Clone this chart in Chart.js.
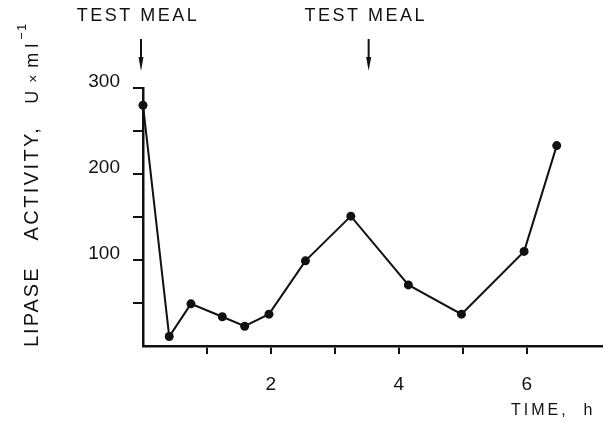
<!DOCTYPE html>
<html>
<head>
<meta charset="utf-8">
<script src="https://cdn.jsdelivr.net/npm/chart.js@4.4.1/dist/chart.umd.min.js"></script>
<style>
  body { margin: 0; background: #fff; }
  #wrap { width: 606px; height: 423px; }
</style>
</head>
<body>
<div id="wrap"><canvas id="grafica" width="606" height="423"></canvas></div>
<script>
// valores
const timeH  = [0, 0.41, 0.75, 1.24, 1.59, 1.97, 2.54, 3.25, 4.15, 4.98, 5.96, 6.47];
const lipase = [280, 11, 49, 34, 23, 37, 99, 151, 71, 37, 110, 233];
const mealTimes = [0, 3.56];
const mealLabel = 'TEST MEAL';
const xLabels = [2, 4, 6];
const yLabels = [100, 200, 300];

const ink = '#111';

// textos y flechas que Chart.js no dibuja solo
const extras = {
  id: 'extras',
  afterDraw(chart) {
    const ctx = chart.ctx;
    const xs = chart.scales.x;
    ctx.save();
    ctx.fillStyle = ink;
    ctx.strokeStyle = ink;

    // flechas TEST MEAL
    mealTimes.forEach(t => {
      const px = xs.getPixelForValue(t) - 2;
      ctx.font = '18px "Liberation Sans", Arial, sans-serif';
      ctx.letterSpacing = '2.5px';
      ctx.textAlign = 'center';
      ctx.textBaseline = 'middle';
      ctx.fillText(mealLabel, px - 3, 16);
      ctx.lineWidth = 2;
      ctx.beginPath();
      ctx.moveTo(px, 39);
      ctx.lineTo(px, 60);
      ctx.stroke();
      ctx.beginPath();
      ctx.moveTo(px - 2.5, 57);
      ctx.lineTo(px + 2.5, 57);
      ctx.lineTo(px, 71);
      ctx.closePath();
      ctx.fill();
    });

    // titulo eje y (girado)
    ctx.save();
    ctx.translate(38, 347);
    ctx.rotate(-Math.PI / 2);
    ctx.textAlign = 'left';
    ctx.textBaseline = 'alphabetic';
    let pos = 0;
    const piece = (txt, size, spacing, gapAfter, rise) => {
      ctx.font = size + 'px "Liberation Sans", Arial, sans-serif';
      ctx.letterSpacing = spacing + 'px';
      ctx.fillText(txt, pos, -(rise || 0));
      pos += ctx.measureText(txt).width + gapAfter;
    };
    piece('LIPASE', 20, 2, 26, 0);
    piece('ACTIVITY,', 20, 2.4, 22, 0);
    piece('U', 18, 0, 8, 0);
    piece('×', 14, 0, 7, 0);
    piece('m', 18, 0, 5, 0);
    piece('l', 18, 0, 4, 0);
    piece('−1', 13, 1, 0, 12);
    ctx.restore();

    // titulo eje x
    ctx.font = '16px "Liberation Sans", Arial, sans-serif';
    ctx.letterSpacing = '3px';
    ctx.textAlign = 'left';
    ctx.textBaseline = 'alphabetic';
    ctx.fillText('TIME,  h', 511, 415);
    ctx.restore();
  }
};

new Chart(document.getElementById('grafica'), {
  type: 'line',
  data: {
    datasets: [{
      data: timeH.map((t, i) => ({x: t, y: lipase[i]})),
      borderColor: ink,
      backgroundColor: ink,
      borderWidth: 2,
      pointRadius: 4.5,
      pointBackgroundColor: ink,
      pointBorderWidth: 0,
      tension: 0,
      clip: false
    }]
  },
  options: {
    responsive: false,
    animation: false,
    layout: { padding: { top: 88, left: 0, right: 0, bottom: 0 } },
    plugins: { legend: { display: false }, tooltip: { enabled: false } },
    scales: {
      x: {
        type: 'linear',
        min: 0,
        max: 7.17,
        afterFit: (s) => { s.height = 77; s.paddingLeft = 0; s.paddingRight = 0; },
        border: { color: ink, width: 2.5 },
        grid: {
          drawOnChartArea: false,
          tickLength: 8,
          lineWidth: 2,
          color: (c) => (c.tick && (c.tick.value === 0 || c.tick.value > 7)) ? 'rgba(0,0,0,0)' : ink
        },
        ticks: {
          stepSize: 1,
          padding: 19,
          color: ink,
          font: { family: '"Liberation Sans", Arial, sans-serif', size: 19 },
          callback: (v) => xLabels.includes(v) ? String(v) : ''
        }
      },
      y: {
        min: 0,
        max: 300,
        afterFit: (s) => { s.width = 143; },
        border: { color: ink, width: 2.5 },
        grid: {
          drawOnChartArea: false,
          tickLength: 10,
          lineWidth: 2,
          color: (c) => (c.tick && c.tick.value === 0) ? 'rgba(0,0,0,0)' : ink
        },
        ticks: {
          stepSize: 50,
          padding: 13,
          labelOffset: -6,
          color: ink,
          font: { family: '"Liberation Sans", Arial, sans-serif', size: 19 },
          callback: (v) => yLabels.includes(v) ? String(v) : ''
        }
      }
    }
  },
  plugins: [extras]
});
</script>
</body>
</html>
